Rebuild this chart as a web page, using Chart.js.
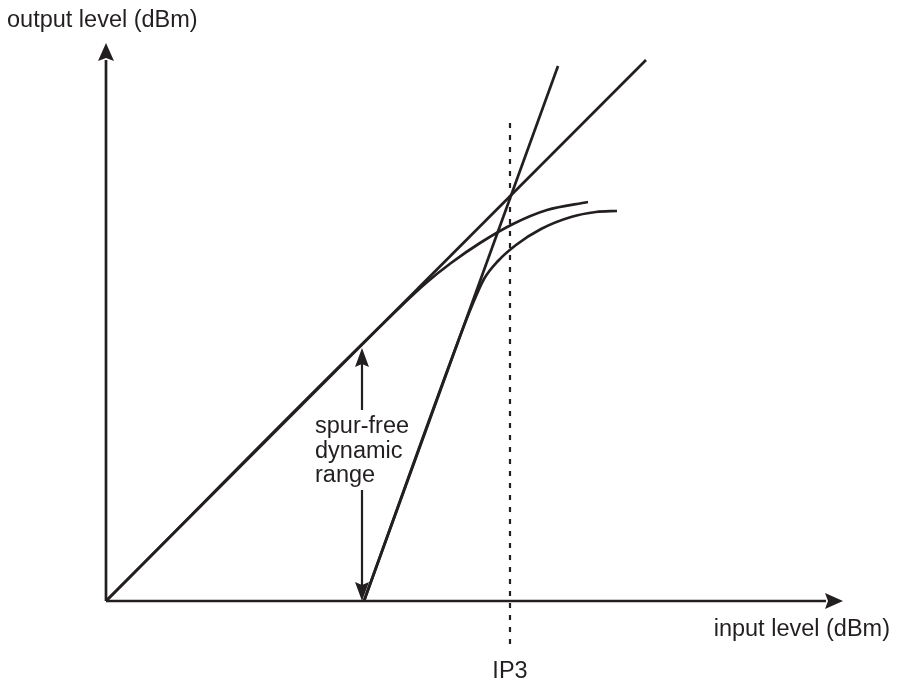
<!DOCTYPE html>
<html>
<head>
<meta charset="utf-8">
<script src="https://cdn.jsdelivr.net/npm/chart.js@4"></script>
<style>
  html,body{margin:0;padding:0;background:#fff;}
  #wrap{width:897px;height:683px;}
</style>
</head>
<body>
<div id="wrap"><canvas id="c" width="897" height="683"></canvas></div>
<script>
// data units: input level (x) and output level (y), arbitrary dB-like units
const xRange = [0, 737];
const yRange = [0, 558];
const fundamental = [[0, 0], [540, 541]];
const thirdOrder = [[258, 0], [452, 535]];
const fundCompressed = [[0, 0], [290, 290], [320, 318], [345, 338], [374, 358], [407, 377], [441, 391], [482, 399]];
const thirdCompressed = [[258, 0], [350, 254], [365, 293], [378, 322], [392, 340], [410, 356], [435, 372], [465, 384], [490, 389], [511, 390]];
const ip3X = 404;
const ip3Span = [-43, 483];
const sfdrX = 256;
const sfdrSpan = [0, 253];
const sfdrGap = [111, 191];

const ink = '#231f20';
const font = '23.5px "Liberation Sans", Arial, sans-serif';

const pts = arr => arr.map(p => ({x: p[0], y: p[1]}));
const seg = (arr, extra) => Object.assign({
  data: pts(arr), borderColor: ink, borderWidth: 2.7, pointRadius: 0,
  fill: false, clip: false, tension: 0
}, extra || {});

// arrowheads and labels
const decor = {
  id: 'decor',
  afterDatasetsDraw(chart){
    const {ctx, scales:{x, y}} = chart;
    const arrow = (vx, vy, dir, len, half) => {
      const px = x.getPixelForValue(vx), py = y.getPixelForValue(vy);
      const d = {up:[0,-1], down:[0,1], right:[1,0]}[dir];
      const n = [-d[1], d[0]];
      const bx = px - d[0]*len, by = py - d[1]*len;
      ctx.beginPath();
      ctx.moveTo(px, py);
      ctx.lineTo(bx + n[0]*half, by + n[1]*half);
      ctx.lineTo(bx + d[0]*3, by + d[1]*3);
      ctx.lineTo(bx - n[0]*half, by - n[1]*half);
      ctx.closePath();
      ctx.fillStyle = ink;
      ctx.fill();
    };
    ctx.save();
    arrow(0, yRange[1], 'up', 18, 8);
    arrow(xRange[1], 0, 'right', 18, 8);
    arrow(sfdrX, sfdrSpan[1], 'up', 19, 7);
    arrow(sfdrX, sfdrSpan[0], 'down', 19, 7);

    ctx.fillStyle = ink;
    ctx.font = font;
    ctx.textBaseline = 'alphabetic';
    ctx.textAlign = 'left';
    ctx.fillText('output level (dBm)', 7, 27);
    ctx.textAlign = 'right';
    ctx.fillText('input level (dBm)', 890, 636);
    ctx.textAlign = 'center';
    ctx.fillText('IP3', x.getPixelForValue(ip3X), 678);
    ctx.textAlign = 'left';
    const tx = x.getPixelForValue(sfdrX) - 47;
    ['spur-free', 'dynamic', 'range'].forEach((t, i) => ctx.fillText(t, tx, 433 + i*24.5));
    ctx.restore();
  }
};

new Chart(document.getElementById('c'), {
  type: 'line',
  data: {
    datasets: [
      seg([[xRange[0], 0], [xRange[1] - 17, 0]]),
      seg([[0, yRange[0]], [0, yRange[1] - 17]]),
      seg(fundamental),
      seg(thirdOrder),
      seg(fundCompressed, {cubicInterpolationMode: 'monotone'}),
      seg(thirdCompressed, {cubicInterpolationMode: 'monotone'}),
      seg([[ip3X, ip3Span[0]], [ip3X, ip3Span[1]]], {borderDash: [5, 7], borderWidth: 2.2}),
      seg([[sfdrX, sfdrSpan[1] - 16], [sfdrX, sfdrGap[1]]], {borderWidth: 2.2}),
      seg([[sfdrX, sfdrGap[0]], [sfdrX, sfdrSpan[0] + 16]], {borderWidth: 2.2})
    ]
  },
  options: {
    responsive: false,
    animation: false,
    layout: {padding: {left: 106, right: 54, top: 43, bottom: 82}},
    plugins: {legend: {display: false}, tooltip: {enabled: false}, title: {display: false}},
    scales: {
      x: {type: 'linear', min: xRange[0], max: xRange[1], display: false},
      y: {type: 'linear', min: yRange[0], max: yRange[1], display: false}
    }
  },
  plugins: [decor]
});
</script>
</body>
</html>
